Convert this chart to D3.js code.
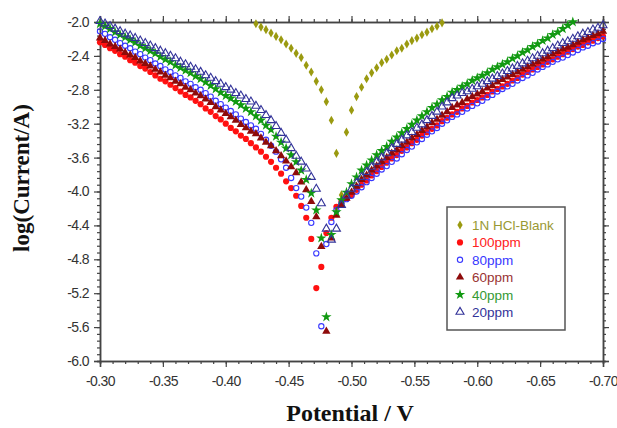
<!DOCTYPE html>
<html>
<head>
<meta charset="utf-8">
<script src="https://cdn.jsdelivr.net/npm/d3@7"></script>
<style>
  body { margin: 0; background: #fff; }
  svg { display: block; }
</style>
</head>
<body>
<script>
// potential scan (V), one point every 4 mV
var potential = [
  -0.300,-0.304,-0.308,-0.312,-0.316,-0.320,-0.324,-0.328,-0.332,-0.336,
  -0.340,-0.344,-0.348,-0.352,-0.356,-0.360,-0.364,-0.368,-0.372,-0.376,
  -0.380,-0.384,-0.388,-0.392,-0.396,-0.400,-0.404,-0.408,-0.412,-0.416,
  -0.420,-0.424,-0.428,-0.432,-0.436,-0.440,-0.444,-0.448,-0.452,-0.456,
  -0.460,-0.464,-0.468,-0.472,-0.476,-0.480,-0.484,-0.488,-0.492,-0.496,
  -0.500,-0.504,-0.508,-0.512,-0.516,-0.520,-0.524,-0.528,-0.532,-0.536,
  -0.540,-0.544,-0.548,-0.552,-0.556,-0.560,-0.564,-0.568,-0.572,-0.576,
  -0.580,-0.584,-0.588,-0.592,-0.596,-0.600,-0.604,-0.608,-0.612,-0.616,
  -0.620,-0.624,-0.628,-0.632,-0.636,-0.640,-0.644,-0.648,-0.652,-0.656,
  -0.660,-0.664,-0.668,-0.672,-0.676,-0.680,-0.684,-0.688,-0.692,-0.696,
  -0.700
];
var blankPotential = [
  -0.424,-0.428,-0.432,-0.436,-0.440,-0.444,-0.448,-0.452,-0.456,-0.460,
  -0.464,-0.468,-0.472,-0.476,-0.480,-0.484,-0.488,-0.492,-0.496,-0.500,
  -0.504,-0.508,-0.512,-0.516,-0.520,-0.524,-0.528,-0.532,-0.536,-0.540,
  -0.544,-0.548,-0.552,-0.556,-0.560,-0.564,-0.568,-0.572
];
// log(Current/A)
var blank = [
  -2.02,-2.06,-2.09,-2.13,-2.17,-2.21,-2.26,-2.31,-2.37,-2.42,
  -2.51,-2.59,-2.70,-2.80,-2.94,-3.16,-3.55,-4.04,-3.30,-3.04,
  -2.88,-2.77,-2.67,-2.60,-2.54,-2.48,-2.44,-2.39,-2.34,-2.31,
  -2.26,-2.22,-2.19,-2.15,-2.12,-2.08,-2.05,-2.01
];
var ppm100 = [
  -2.24,-2.27,-2.31,-2.34,-2.38,-2.41,-2.45,-2.48,-2.52,-2.55,-2.59,
  -2.63,-2.67,-2.70,-2.74,-2.78,-2.82,-2.86,-2.89,-2.93,-2.97,
  -3.02,-3.06,-3.11,-3.15,-3.20,-3.25,-3.29,-3.34,-3.38,-3.43,
  -3.48,-3.53,-3.59,-3.65,-3.72,-3.79,-3.88,-3.96,-4.05,-4.17,-4.31,-4.56,-5.14,
  -4.89,-4.49,-4.31,-4.18,-4.12,-4.08,-4.04,
  -3.98,-3.92,-3.87,-3.81,-3.76,-3.71,-3.66,-3.61,-3.57,-3.52,
  -3.48,-3.43,-3.39,-3.34,-3.30,-3.26,-3.22,-3.17,-3.13,-3.09,
  -3.06,-3.02,-2.99,-2.95,-2.92,-2.89,-2.86,-2.82,-2.79,-2.76,
  -2.73,-2.69,-2.66,-2.62,-2.59,-2.56,-2.53,-2.50,-2.47,-2.44,
  -2.41,-2.38,-2.35,-2.32,-2.29,-2.27,-2.24,-2.22,-2.19,-2.17
];
var ppm80 = [
  -2.11,-2.14,-2.18,-2.21,-2.25,-2.28,-2.31,-2.35,-2.38,-2.42,-2.45,
  -2.49,-2.52,-2.56,-2.59,-2.63,-2.66,-2.70,-2.73,-2.77,-2.80,
  -2.84,-2.88,-2.93,-2.97,-3.01,-3.05,-3.09,-3.14,-3.18,-3.22,
  -3.26,-3.32,-3.39,-3.46,-3.53,-3.62,-3.72,-3.84,-3.96,-4.06,-4.19,-4.37,-4.73,-5.59,
  -4.62,-4.36,-4.22,-4.14,-4.09,-4.05,
  -4.00,-3.95,-3.89,-3.84,-3.79,-3.74,-3.70,-3.65,-3.61,-3.56,
  -3.51,-3.47,-3.42,-3.38,-3.33,-3.29,-3.25,-3.20,-3.16,-3.12,
  -3.09,-3.06,-3.02,-2.99,-2.96,-2.93,-2.89,-2.86,-2.82,-2.79,
  -2.76,-2.73,-2.69,-2.66,-2.63,-2.60,-2.56,-2.53,-2.50,-2.47,
  -2.44,-2.42,-2.39,-2.36,-2.33,-2.30,-2.28,-2.25,-2.23,-2.20
];
var ppm60 = [
  -2.19,-2.22,-2.26,-2.29,-2.32,-2.36,-2.39,-2.42,-2.46,-2.49,-2.52,
  -2.56,-2.59,-2.63,-2.66,-2.70,-2.73,-2.77,-2.80,-2.84,-2.87,
  -2.91,-2.95,-3.00,-3.04,-3.08,-3.12,-3.16,-3.21,-3.25,-3.29,
  -3.32,-3.37,-3.42,-3.46,-3.52,-3.58,-3.64,-3.71,-3.78,-3.89,-3.98,-4.12,-4.30,-4.65,-5.65,
  -4.55,-4.28,-4.16,-4.08,-4.01,
  -3.94,-3.86,-3.81,-3.75,-3.70,-3.65,-3.60,-3.55,-3.51,-3.46,
  -3.42,-3.37,-3.33,-3.28,-3.24,-3.19,-3.15,-3.10,-3.06,-3.01,
  -2.98,-2.95,-2.91,-2.88,-2.85,-2.82,-2.78,-2.75,-2.71,-2.68,
  -2.65,-2.62,-2.59,-2.56,-2.53,-2.50,-2.47,-2.44,-2.41,-2.38,
  -2.35,-2.32,-2.30,-2.27,-2.24,-2.21,-2.19,-2.16,-2.14,-2.11
];
var ppm40 = [
  -2.02,-2.05,-2.08,-2.12,-2.15,-2.18,-2.21,-2.24,-2.28,-2.31,-2.34,
  -2.37,-2.41,-2.44,-2.47,-2.51,-2.54,-2.57,-2.60,-2.64,-2.67,
  -2.71,-2.75,-2.79,-2.83,-2.87,-2.90,-2.94,-2.98,-3.02,-3.06,
  -3.11,-3.16,-3.22,-3.27,-3.35,-3.42,-3.49,-3.57,-3.65,-3.75,-3.86,-4.02,-4.22,-4.55,-5.48,
  -4.51,-4.24,-4.10,-4.01,-3.91,
  -3.83,-3.75,-3.69,-3.63,-3.57,-3.52,-3.47,-3.41,-3.36,-3.31,
  -3.26,-3.21,-3.16,-3.11,-3.06,-3.01,-2.97,-2.92,-2.88,-2.83,
  -2.80,-2.76,-2.73,-2.69,-2.66,-2.63,-2.60,-2.56,-2.53,-2.50,
  -2.47,-2.43,-2.40,-2.36,-2.33,-2.29,-2.26,-2.22,-2.19,-2.15,
  -2.12,-2.08,-2.04,-2.00
];
var ppm20 = [
  -1.99,-2.02,-2.05,-2.08,-2.11,-2.14,-2.16,-2.19,-2.22,-2.25,-2.28,
  -2.31,-2.34,-2.37,-2.40,-2.43,-2.47,-2.50,-2.53,-2.56,-2.59,
  -2.63,-2.66,-2.70,-2.73,-2.77,-2.80,-2.84,-2.87,-2.91,-2.94,
  -2.99,-3.04,-3.10,-3.16,-3.23,-3.31,-3.39,-3.49,-3.58,-3.65,-3.73,-3.83,-3.97,-4.14,-4.44,-4.57,-4.44,
  -4.16,-4.05,-3.97,
  -3.90,-3.83,-3.77,-3.71,-3.65,-3.60,-3.55,-3.49,-3.44,-3.39,
  -3.34,-3.30,-3.25,-3.21,-3.16,-3.11,-3.06,-3.00,-2.95,-2.90,
  -2.87,-2.84,-2.82,-2.79,-2.76,-2.73,-2.70,-2.67,-2.64,-2.61,
  -2.58,-2.55,-2.52,-2.49,-2.46,-2.43,-2.40,-2.37,-2.34,-2.31,
  -2.28,-2.25,-2.23,-2.20,-2.17,-2.14,-2.12,-2.09,-2.07,-2.04
];

var seriesNames = ["1N HCl-Blank", "100ppm", "80ppm", "60ppm", "40ppm", "20ppm"];
var xTicks = [-0.30, -0.35, -0.40, -0.45, -0.50, -0.55, -0.60, -0.65, -0.70];
var yTicks = [-2.0, -2.4, -2.8, -3.2, -3.6, -4.0, -4.4, -4.8, -5.2, -5.6, -6.0];

var series = [
  {name: seriesNames[0], E: blankPotential, I: blank, sym: d3.symbolDiamond, size: 24, fill: "#9a9a10", stroke: "none", text: "#999933"},
  {name: seriesNames[1], E: potential, I: ppm100, sym: d3.symbolCircle, size: 30, fill: "#ff1010", stroke: "none", text: "#ff2020"},
  {name: seriesNames[2], E: potential, I: ppm80, sym: d3.symbolCircle, size: 22, fill: "none", stroke: "#3838ff", text: "#3838ff"},
  {name: seriesNames[3], E: potential, I: ppm60, sym: d3.symbolTriangle, size: 30, fill: "#8e0a0a", stroke: "none", text: "#993333"},
  {name: seriesNames[4], E: potential, I: ppm40, sym: d3.symbolStar, size: 34, fill: "#119911", stroke: "none", text: "#339933"},
  {name: seriesNames[5], E: potential, I: ppm20, sym: d3.symbolTriangle, size: 28, fill: "none", stroke: "#333399", text: "#333399"}
];

var W = 617, H = 428;
var plotL = 100, plotR = 603, plotT = 22, plotB = 361;

var svg = d3.select("body").append("svg")
  .attr("width", W)
  .attr("height", H);

var x = d3.scaleLinear().domain([-0.30, -0.70]).range([plotL, plotR]);
var y = d3.scaleLinear().domain([-6.0, -2.0]).range([plotB, plotT]);

var xMinor = d3.range(0, 41).map(function(k) { return -0.30 - k * 0.01; });
var yMinor = d3.range(0, 51).map(function(k) { return -2.0 - k * 0.08; });

function styleAxis(g) {
  g.selectAll("path.domain").attr("stroke", "#444").attr("stroke-width", 1.5);
  g.selectAll(".tick line").attr("stroke", "#444").attr("stroke-width", 1.2);
  g.selectAll(".tick text")
    .attr("fill", "#333")
    .style("font-family", "'Liberation Sans', Arial, sans-serif")
    .style("font-size", "14px")
    .style("letter-spacing", "-0.6px");
}

// minor ticks
svg.append("g").attr("transform", "translate(0," + plotB + ")")
  .call(d3.axisBottom(x).tickValues(xMinor).tickSize(3).tickFormat(""))
  .call(styleAxis);
svg.append("g").attr("transform", "translate(0," + plotT + ")")
  .call(d3.axisTop(x).tickValues(xMinor).tickSize(3).tickFormat(""))
  .call(styleAxis);
svg.append("g").attr("transform", "translate(" + plotL + ",0)")
  .call(d3.axisLeft(y).tickValues(yMinor).tickSize(3).tickFormat(""))
  .call(styleAxis);
svg.append("g").attr("transform", "translate(" + plotR + ",0)")
  .call(d3.axisRight(y).tickValues(yMinor).tickSize(3).tickFormat(""))
  .call(styleAxis);

// major ticks
svg.append("g").attr("transform", "translate(0," + plotB + ")")
  .call(d3.axisBottom(x).tickValues(xTicks).tickSize(6).tickPadding(9)
    .tickFormat(function(d) { return d.toFixed(2); }))
  .call(styleAxis);
svg.append("g").attr("transform", "translate(0," + plotT + ")")
  .call(d3.axisTop(x).tickValues(xTicks).tickSize(6).tickFormat(""))
  .call(styleAxis);
svg.append("g").attr("transform", "translate(" + plotL + ",0)")
  .call(d3.axisLeft(y).tickValues(yTicks).tickSize(6).tickPadding(5)
    .tickFormat(function(d) { return d.toFixed(1); }))
  .call(styleAxis);
svg.append("g").attr("transform", "translate(" + plotR + ",0)")
  .call(d3.axisRight(y).tickValues(yTicks).tickSize(6).tickFormat(""))
  .call(styleAxis);

// markers
series.forEach(function(s) {
  var pts = s.I.map(function(v, i) { return [s.E[i], v]; });
  svg.append("g").selectAll("path")
    .data(pts)
    .enter().append("path")
    .attr("transform", function(d) { return "translate(" + x(d[0]) + "," + y(d[1]) + ")"; })
    .attr("d", d3.symbol().type(s.sym).size(s.size))
    .attr("fill", s.fill)
    .attr("stroke", s.stroke)
    .attr("stroke-width", 1.1);
});

// axis titles
svg.append("text")
  .attr("transform", "translate(29,178) rotate(-90)")
  .attr("text-anchor", "middle")
  .style("font-family", "'Liberation Serif', 'Times New Roman', serif")
  .style("font-weight", "bold")
  .style("font-size", "23px")
  .attr("fill", "#111")
  .text("log(Current/A)");

svg.append("text")
  .attr("x", 350)
  .attr("y", 421)
  .attr("text-anchor", "middle")
  .style("font-family", "'Liberation Serif', 'Times New Roman', serif")
  .style("font-weight", "bold")
  .style("font-size", "24px")
  .attr("fill", "#111")
  .text("Potential / V");

// legend
var lg = svg.append("g");
lg.append("rect")
  .attr("x", 447).attr("y", 207)
  .attr("width", 118).attr("height", 123)
  .attr("fill", "#fff")
  .attr("stroke", "#555")
  .attr("stroke-width", 1.5);
var rowY = d3.scalePoint().domain(seriesNames).range([225, 312]);
series.forEach(function(s) {
  lg.append("path")
    .attr("transform", "translate(460," + rowY(s.name) + ")")
    .attr("d", d3.symbol().type(s.sym).size(s.size))
    .attr("fill", s.fill)
    .attr("stroke", s.stroke)
    .attr("stroke-width", 1.1);
  lg.append("text")
    .attr("x", 472)
    .attr("y", rowY(s.name) + 5)
    .style("font-family", "'Liberation Sans', Arial, sans-serif")
    .style("font-size", "13.5px")
    .attr("fill", s.text)
    .text(s.name);
});
</script>
</body>
</html>
